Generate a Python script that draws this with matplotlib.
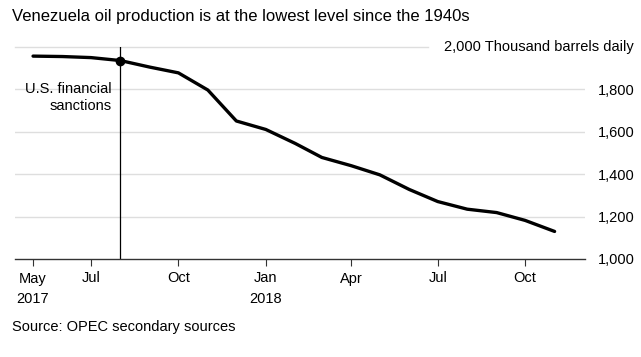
import matplotlib
matplotlib.use("Agg")
import matplotlib.pyplot as plt
import pandas as pd
from matplotlib import font_manager

names = {f.name for f in font_manager.fontManager.ttflist}
FONT = "Liberation Sans Narrow" if "Liberation Sans Narrow" in names else "Liberation Sans"
plt.rcParams["font.family"] = [FONT, "DejaVu Sans"]

# ---- data ----
months = pd.date_range("2017-05-01", "2018-11-01", freq="MS")
production = [1957, 1955, 1950, 1936, 1905, 1878, 1797, 1651, 1611, 1545,
              1479, 1440, 1397, 1328, 1271, 1235, 1219, 1182, 1130]
sanction_date = pd.Timestamp("2017-08-01")
sanction_value = 1936
y_ticks = [1000, 1200, 1400, 1600, 1800]
tick_dates = pd.to_datetime(["2017-05-01", "2017-07-01", "2017-10-01", "2018-01-01",
                             "2018-04-01", "2018-07-01", "2018-10-01"])
tick_labels = ["May\n2017", "Jul", "Oct", "Jan\n2018", "Apr", "Jul", "Oct"]

W, H = 641, 357
fig = plt.figure(figsize=(W / 100, H / 100), dpi=100)
ax = fig.add_axes([15 / W, 1 - 259 / H, (585 - 15) / W, (259 - 47) / H])

ax.set_xlim(pd.Timestamp("2017-04-12"), pd.Timestamp("2018-12-03"))
ax.set_ylim(1000, 2000)

# gridlines
for v in [1200, 1400, 1600, 1800]:
    ax.axhline(v, color="#dedede", lw=1, zorder=0)
ax.plot([0, 0.725], [2000, 2000], transform=ax.get_yaxis_transform(),
        color="#dedede", lw=1, zorder=0, clip_on=False)

ax.plot(months, production, color="black", lw=2.4, solid_joinstyle="round",
        solid_capstyle="round", zorder=3)
ax.axvline(sanction_date, ymin=0, ymax=1, color="black", lw=0.9, zorder=2)
ax.plot([sanction_date], [sanction_value], "o", color="black", ms=6, zorder=4, clip_on=False)
ax.text(sanction_date - pd.Timedelta(days=9), 1800, "U.S. financial",
        ha="right", va="center", fontsize=10.5, zorder=3)
ax.text(sanction_date - pd.Timedelta(days=9), 1720, "sanctions",
        ha="right", va="center", fontsize=10.5, zorder=3)

for s in ["top", "right", "left"]:
    ax.spines[s].set_visible(False)
ax.spines["bottom"].set_color("#333333")
ax.spines["bottom"].set_linewidth(1)

ax.set_xticks(tick_dates)
ax.set_xticklabels(tick_labels, fontsize=10.5, linespacing=1.55)
ax.tick_params(axis="x", length=5, color="#333333", pad=4)

ax.yaxis.tick_right()
ax.set_yticks(y_ticks)
ax.set_yticklabels([f"{v:,}" for v in y_ticks], fontsize=10.5)
ax.tick_params(axis="y", length=0, pad=9)
for lbl in ax.get_yticklabels():
    lbl.set_ha("left")

fig.text(634 / W, 1 - 47 / H, "2,000 Thousand barrels daily", ha="right", va="center", fontsize=10.5)
fig.text(12 / W, 1 - 16 / H, "Venezuela oil production is at the lowest level since the 1940s",
         ha="left", va="center", fontsize=12)
fig.text(12 / W, 1 - 327 / H, "Source: OPEC secondary sources", ha="left", va="center",
         fontsize=10.5)

fig.savefig("out.png", dpi=100, facecolor="white")
